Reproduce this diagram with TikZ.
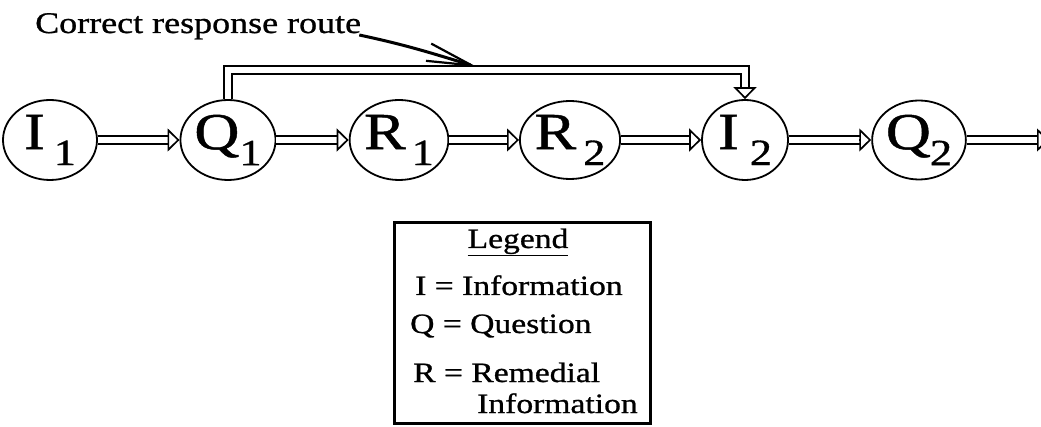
\documentclass[tikz,border=0pt]{standalone}
\usepackage{fontspec}
\setmainfont{Liberation Serif}[FakeStretch=1.2, FakeBold=0.9]
\usetikzlibrary{shapes.geometric,arrows.meta}
\newcommand\nodeL{\fontsize{52}{52}\selectfont}
\newcommand\nodeS{\fontsize{37}{37}\selectfont}
\newcommand\nlab[3]{{\nodeL #1}\kern#2\raisebox{-16pt}{\nodeS #3}}
\tikzset{
  st/.style={ellipse, draw, line width=1.8pt, inner sep=0pt, minimum width=90pt, minimum height=80pt},
  dbl/.style={double, double distance=6pt, line width=1.7pt, shorten >=10pt},
  hd/.style={line width=1.7pt, -{Triangle[fill=white, length=12pt, width=23pt, line width=1.7pt]}},
  txt/.style={font=\fontsize{30}{32}\selectfont, inner sep=0pt},
  leg/.style={font=\fontsize{28}{30}\selectfont, inner sep=0pt, anchor=base west},
  callout/.style={line width=3pt, -{Straight Barb[length=45pt, width=18pt, line width=2.2pt]}}
}
\begin{document}
\begin{tikzpicture}[x=1pt, y=-1pt]
\clip (0,0) rectangle (1041,427);
% states
\node[st, minimum width=94pt] (I1) at (50,140) {\nlab{I}{9pt}{1}};
\node[st] (Q1) at (228,140) {\nlab{Q}{0pt}{1}};
\node[st, minimum width=86pt] (R1) at (399,140) {\nlab{R}{6pt}{1}};
\node[st, minimum width=94pt, minimum height=78pt] (R2) at (570,140) {\nlab{R}{7pt}{2}};
\node[st, minimum width=86pt] (I2) at (745,140) {\nlab{I}{11pt}{2}};
\node[st, minimum width=88pt, minimum height=79pt] (Q2) at (919,140) {\nlab{Q}{-1pt}{2}};
\coordinate (out) at (1049,140);
% chain arrows
\foreach \a/\b in {I1/Q1, Q1/R1, R1/R2, R2/I2, I2/Q2} {
  \draw[dbl] (\a) -- (\b);
  \draw[hd] ([xshift=-12pt]\b.west) -- (\b.west);
}
\draw[dbl] (Q2) -- (out);
\draw[hd] ([xshift=-12pt]out) -- (out);
% correct response route
\draw[dbl, line join=miter] (Q1.north) -- ++(0,-29) -| (I2.north);
\draw[hd] ([yshift=12pt]I2.north) -- (I2.north);
% label and pointer
\node[txt, anchor=base west] (lbl) at (35,33) {Correct response route};
\coordinate (ptr) at (477,67);
\draw[callout] ([xshift=-2pt, yshift=-2pt]lbl.base east) to[out=-12, in=163] (ptr);
% legend
\node[draw, line width=3pt, minimum width=256pt, minimum height=201pt, inner sep=0pt] (legend) at (522.5,323) {};
\node[txt, font=\fontsize{28}{30}\selectfont, anchor=base] (legt) at (518,248) {\underline{Legend}};
\node[leg] (l1) at (415,295) {I = Information};
\node[leg] (l2) at (410,333) {Q = Question};
\node[leg] (l3) at (413,382) {R = Remedial};
\node[leg] (l4) at (477,413) {Information};
\end{tikzpicture}
\end{document}
